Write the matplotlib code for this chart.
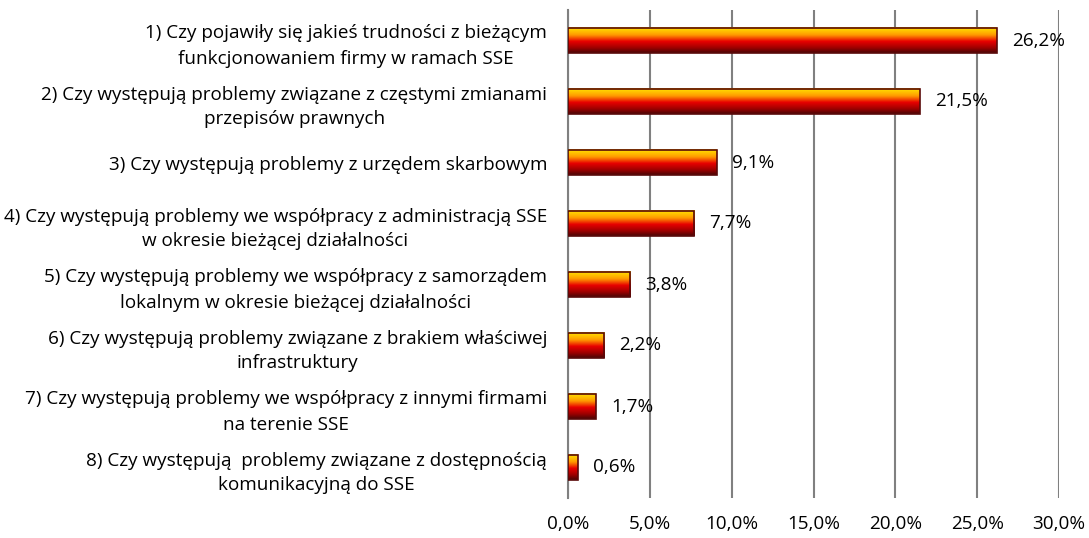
import numpy as np
import matplotlib
matplotlib.use("Agg")
import matplotlib.pyplot as plt
from matplotlib.colors import LinearSegmentedColormap
from matplotlib.patches import Rectangle

categories = [
    "1) Czy pojawiły się jakieś trudności z bieżącym\nfunkcjonowaniem firmy w ramach SSE",
    "2) Czy występują problemy związane z częstymi zmianami\nprzepisów prawnych",
    "3) Czy występują problemy z urzędem skarbowym",
    "4) Czy występują problemy we współpracy z administracją SSE\nw okresie bieżącej działalności",
    "5) Czy występują problemy we współpracy z samorządem\nlokalnym w okresie bieżącej działalności",
    "6) Czy występują problemy związane z brakiem właściwej\ninfrastruktury",
    "7) Czy występują problemy we współpracy z innymi firmami\nna terenie SSE",
    "8) Czy występują  problemy związane z dostępnością\nkomunikacyjną do SSE",
]
values = [26.2, 21.5, 9.1, 7.7, 3.8, 2.2, 1.7, 0.6]
value_labels = ["26,2%", "21,5%", "9,1%", "7,7%", "3,8%", "2,2%", "1,7%", "0,6%"]
xticks = [0, 5, 10, 15, 20, 25, 30]
xtick_labels = ["0,0%", "5,0%", "10,0%", "15,0%", "20,0%", "25,0%", "30,0%"]

plt.rcParams['font.family'] = ['Open Sans', 'DejaVu Sans']
FS = 13.6

W, H = 1089, 538
fig = plt.figure(figsize=(W / 100, H / 100), dpi=100)
ax = fig.add_axes([568 / W, 1 - 498 / H, (1059 - 568) / W, (498 - 10) / H])

cmap = LinearSegmentedColormap.from_list(
    "fire", [(0.0, "#FFE600"), (0.3, "#FF9A00"), (0.55, "#E80000"), (0.8, "#A00000"), (1.0, "#4A0606")])
grad = np.linspace(0, 1, 64).reshape(-1, 1)

bh = 0.41
for i, v in enumerate(values):
    ax.imshow(grad, cmap=cmap, aspect='auto', extent=[0, v, i + bh / 2, i - bh / 2],
              origin='upper', zorder=3, interpolation='bilinear')
    ax.add_patch(Rectangle((0, i - bh / 2), v, bh, fill=False, edgecolor="#5A0A0A",
                           linewidth=1.2, zorder=4))
    ax.annotate(value_labels[i], (v, i), xytext=(11, 0), textcoords='offset points',
                ha='left', va='center', fontsize=FS, color='black', zorder=5)

ax.set_xlim(0, 30)
ax.set_ylim(len(values) - 0.5, -0.5)
ax.set_xticks(xticks)
ax.set_xticklabels(xtick_labels, fontsize=FS)
ax.set_yticks(range(len(categories)))
ax.set_yticklabels(categories, fontsize=FS, multialignment='center', linespacing=1.5)
ax.tick_params(axis='both', length=0)
ax.tick_params(axis='y', pad=15)
ax.tick_params(axis='x', pad=12)
ax.xaxis.grid(True, color='#808080', linewidth=1.5, zorder=1)
ax.set_axisbelow(True)
for s in ['top', 'right', 'bottom']:
    ax.spines[s].set_visible(False)
ax.spines['left'].set_color('#808080')
ax.spines['left'].set_linewidth(1.5)

fig.savefig("out.png", dpi=100)
